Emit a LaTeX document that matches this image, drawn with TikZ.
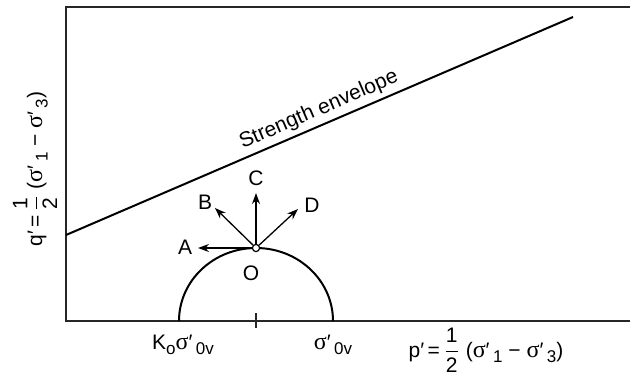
\documentclass[tikz,border=0pt]{standalone}
\usepackage{amsmath}
\usepackage{fontspec}
\setmainfont{Liberation Sans}
\newfontfamily\grk{Liberation Serif}
\usetikzlibrary{arrows.meta}
\newcommand{\sg}{{\grk\fontsize{12}{12}\selectfont σ}}
\newcommand{\pr}{′}
\newcommand{\sbs}[1]{\raisebox{-0.5ex}{\fontsize{8.5}{9}\selectfont #1}}
\newcommand{\hlf}{$\dfrac{\text{1}}{\text{2}}$}
\begin{document}
\begin{tikzpicture}[x=0.5pt,y=0.5pt,
  axis/.style={line width=0.75pt, draw=black!85},
  env/.style={line width=1pt},
  vec/.style={line width=0.65pt,-{Stealth[length=5.5pt,width=4pt]}},
  lbl/.style={font=\fontsize{10.5}{12}\selectfont, inner sep=0pt},
  dot/.style={circle, draw, line width=0.6pt, fill=white, inner sep=0pt, minimum size=3.6pt}]
\useasboundingbox (0,0) rectangle (630,377);
% frame and axes
\coordinate (tl) at (66,370);
\coordinate (tr) at (630,370);
\coordinate (bl) at (66,56);
\coordinate (br) at (630,56);
\draw[axis] (tr) -- (tl) -- (bl) -- (br);
% strength envelope
\coordinate (e1) at (66,142);
\coordinate (e2) at (573,360);
\draw[env] (e1) -- (e2);
\node[lbl, rotate=23.3] (senv) at (319,267) {Strength envelope};
% semicircle
\draw[env] (179,56) arc[start angle=180, end angle=0, x radius=77, y radius=73];
% tick
\coordinate (t1) at (256,49);
\coordinate (t2) at (256,64);
\draw[axis] (t1) -- (t2);
% stress point and paths
\node[dot] (O) at (256,129) {};
\coordinate (ta) at (198,129);
\coordinate (tb) at (215,169);
\coordinate (tc) at (256,184);
\coordinate (td) at (298,168);
\draw[vec] (O) -- (ta);
\draw[vec] (O) -- (tb);
\draw[vec] (O) -- (tc);
\draw[vec] (O) -- (td);
\node[lbl] (A) at (185,130) {A};
\node[lbl] (B) at (205,175) {B};
\node[lbl] (C) at (256,199) {C};
\node[lbl] (D) at (312,172) {D};
\node[lbl] (Ol) at (251,104) {O};
% axis labels
\node[lbl] (k0) at (183,32) {K\sbs{o}\sg\pr\,\sbs{0v}};
\node[lbl] (s0) at (333,32) {\sg\pr\,\sbs{0v}};
\node[lbl] (px) at (486,27) {p\pr\,=\,\hlf\ (\sg\pr\,\sbs{1}\ −\ \sg\pr\,\sbs{3})};
\node[lbl, rotate=90] (qy) at (35,208) {q\pr\,=\,\hlf\ (\sg\pr\,\sbs{1}\ −\ \sg\pr\,\sbs{3})};
\end{tikzpicture}
\end{document}
